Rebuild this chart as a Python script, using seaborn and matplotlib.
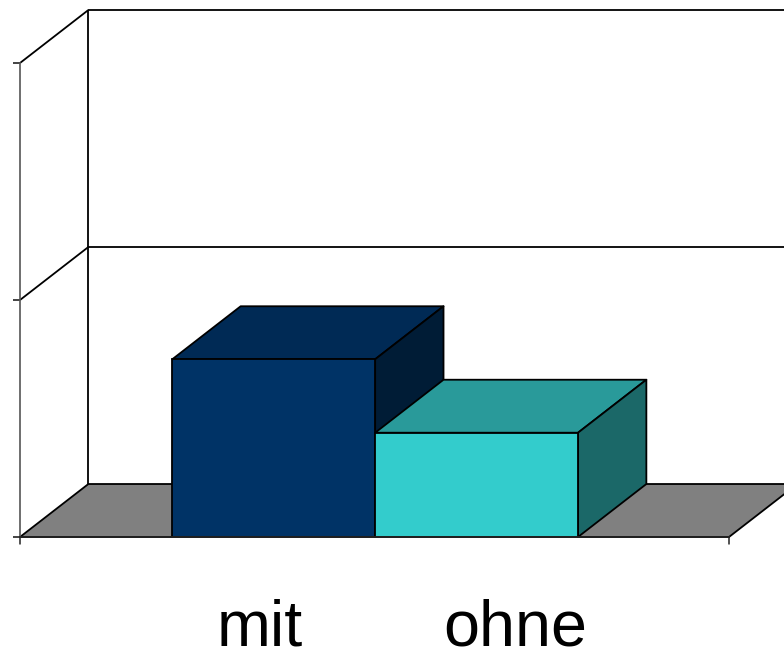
import matplotlib
matplotlib.use("Agg")
import matplotlib.pyplot as plt
from matplotlib.patches import Polygon
import pandas as pd
import seaborn as sns

# Bar values and the labels written under them
categories = ["mit", "ohne"]
values = [0.75, 0.44]
y_ticks = [0, 1, 2]

front_colors = ["#003366", "#33CCCC"]
top_colors = ["#002A55", "#299A9A"]
side_colors = ["#001C36", "#1B6868"]
floor_color = "#808080"
line_color = "#000000"

# Oblique depth of the box, in data units
DEPTH_X = 0.337
DEPTH_Y = 0.2236
X_MIN, X_MAX = -1.2508, 2.2444
LINE = 1.3

sns.set_theme(style="white", rc={"font.family": ["Liberation Sans", "DejaVu Sans"]})
fig = plt.figure(figsize=(7.84, 6.5), dpi=100)
ax = fig.add_axes([20 / 784, (650 - 537) / 650, 709 / 784, 474 / 650])
ax.patch.set_alpha(0)


def face(points, color, z):
    ax.add_patch(Polygon(points, closed=True, facecolor=color, edgecolor=line_color,
                         linewidth=LINE, clip_on=False, zorder=z, joinstyle="round"))


def line(xs, ys, z=1, width=LINE):
    ax.plot(xs, ys, color=line_color, linewidth=width, clip_on=False, zorder=z,
            solid_capstyle="butt")


ax.set_xlim(X_MIN, X_MAX)
ax.set_ylim(y_ticks[0], y_ticks[-1])

frame = pd.DataFrame({"group": categories, "value": values})
sns.barplot(data=frame, x="group", y="value", hue="group", palette=front_colors,
            width=1.0, dodge=False, legend=False, edgecolor=line_color,
            linewidth=LINE, zorder=5, saturation=1, ax=ax)
ax.set_xlim(X_MIN, X_MAX)
ax.set_ylim(y_ticks[0], y_ticks[-1])
ax.set_xlabel("")
ax.set_ylabel("")

# Floor plane, running past the right edge of the canvas
face([(X_MIN, 0), (X_MAX, 0), (X_MAX + DEPTH_X, DEPTH_Y), (X_MIN + DEPTH_X, DEPTH_Y)],
     floor_color, 1)

# Back wall and gridlines
back_left = X_MIN + DEPTH_X
line([back_left, back_left], [DEPTH_Y, y_ticks[-1] + DEPTH_Y], z=2)
for tick in y_ticks[1:]:
    line([X_MIN, back_left], [tick, tick + DEPTH_Y], z=2)
    line([back_left, X_MAX + DEPTH_X + 0.2], [tick + DEPTH_Y, tick + DEPTH_Y], z=2)

# Top and side faces of each box, back to front
for pos, (val, top, side) in enumerate(zip(values, top_colors, side_colors)):
    left, right = pos - 0.5, pos + 0.5
    face([(left, val), (right, val), (right + DEPTH_X, val + DEPTH_Y),
          (left + DEPTH_X, val + DEPTH_Y)], top, 3 + pos)
    face([(right, 0), (right, val), (right + DEPTH_X, val + DEPTH_Y),
          (right + DEPTH_X, DEPTH_Y)], side, 3 + pos)

# Axis lines with outward ticks
ax.set_xticks([])
ax.set_yticks(y_ticks, labels=[])
ax.tick_params(axis="y", length=5, width=1.1, color="#111111", direction="out", left=True)
ax.tick_params(axis="x", length=0)
for name in ("top", "right"):
    ax.spines[name].set_visible(False)
ax.spines["left"].set_color("#555555")
ax.spines["left"].set_linewidth(1.2)
ax.spines["bottom"].set_color("#222222")
ax.spines["bottom"].set_linewidth(1.3)
ax.spines["bottom"].set_zorder(6)
for x_end in (X_MIN, X_MAX):
    ax.plot([x_end, x_end], [0, -0.03], color="#222222", linewidth=1.1, clip_on=False)

# Category labels under the chart
fig.text(260 / 784, 1 - 646 / 650, categories[0], fontsize=46.5, color="black",
         ha="center", va="baseline", family=["Liberation Sans", "DejaVu Sans"])
fig.text(515 / 784, 1 - 646 / 650, categories[1], fontsize=46.5, color="black",
         ha="center", va="baseline", family=["Liberation Sans", "DejaVu Sans"])

fig.savefig("out.png", dpi=100)
